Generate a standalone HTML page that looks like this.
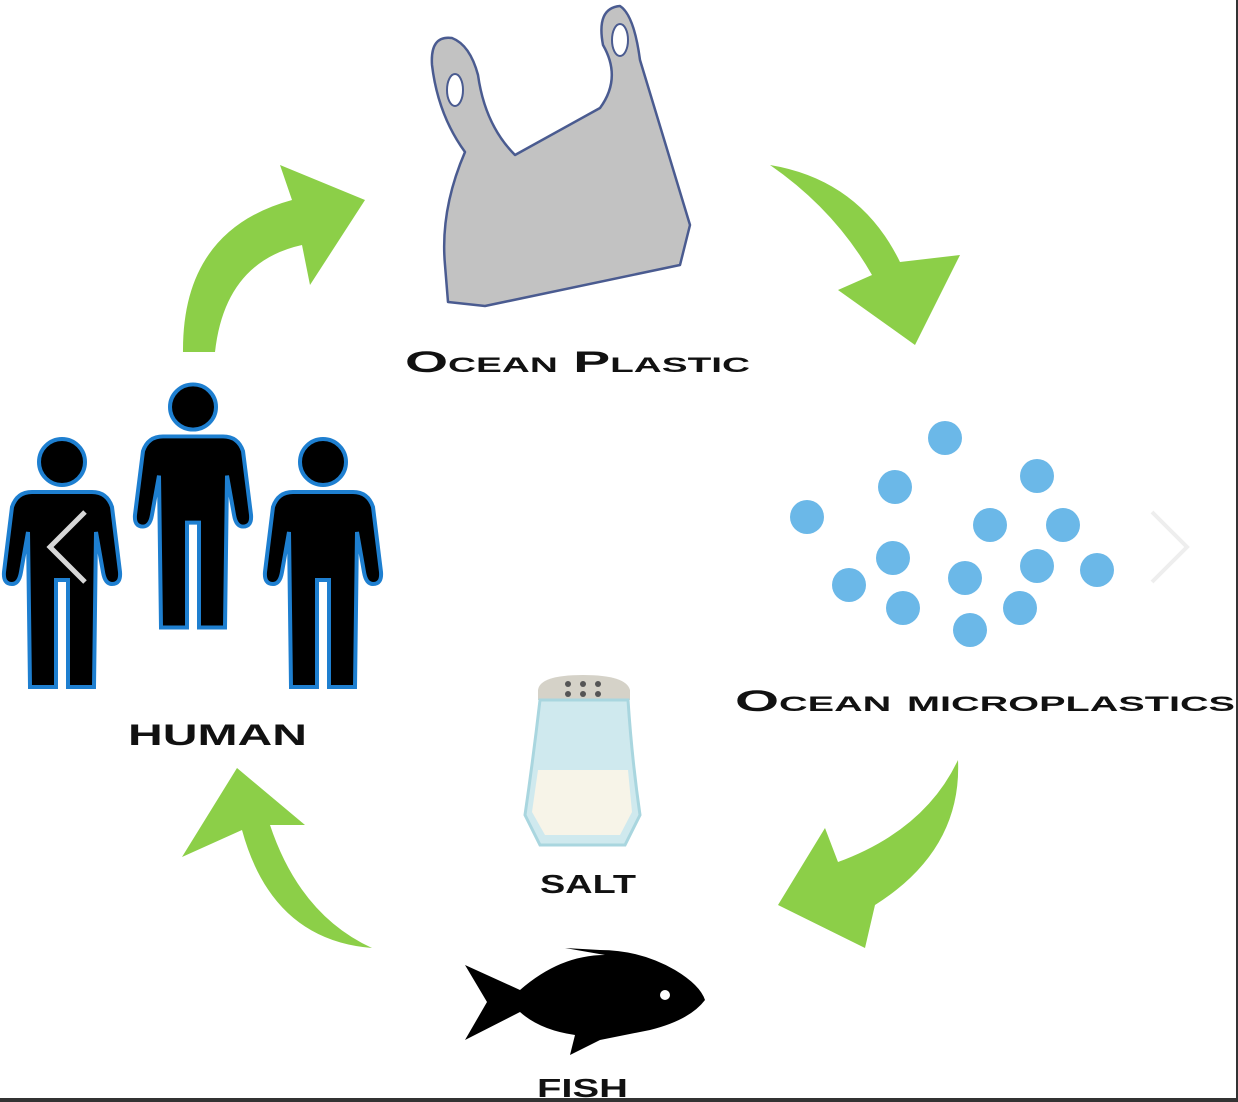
<!DOCTYPE html>
<html><head><meta charset="utf-8"><style>
html,body{margin:0;padding:0;background:#fff;}
svg{display:block}
text{font-family:"Liberation Sans",sans-serif;font-weight:bold;fill:#111;}
</style></head><body>
<svg width="1238" height="1102" viewBox="0 0 1238 1102" xmlns="http://www.w3.org/2000/svg">
<rect width="1238" height="1102" fill="#fff"/>
<g fill="#8ccf48">
<path d="M183,352 Q182,230 292,200 L280,165 L365,200 L310,285 L302,245 Q225,262 215,352 Z"/>
<path d="M770,165 Q860,180 900,262 L960,255 L915,345 L838,290 L872,275 Q835,210 770,165 Z"/>
<path d="M958,760 Q962,850 875,905 L865,948 L778,905 L825,828 L838,862 Q925,830 958,760 Z"/>
<path d="M372,948 Q272,940 242,830 L182,857 L237,768 L305,825 L270,825 Q300,915 372,948 Z"/>
</g>
<path d="M448,302 L445,265 Q440,210 465,152 Q438,115 432,65 Q430,35 452,38 Q470,45 478,75 Q485,125 515,155 L600,108 Q622,78 603,45 Q596,8 620,6 Q634,15 640,60 L690,225 L680,265 L485,306 Z" fill="#c2c2c2" stroke="#4a5b90" stroke-width="2.5" stroke-linejoin="round"/>
<ellipse cx="455" cy="90" rx="8" ry="16" fill="#fff" stroke="#4a5b90" stroke-width="2"/>
<ellipse cx="620" cy="40" rx="8" ry="16" fill="#fff" stroke="#4a5b90" stroke-width="2"/>
<text x="405" y="372" font-size="30" textLength="345" lengthAdjust="spacingAndGlyphs" style="font-variant:small-caps">Ocean Plastic</text>
<g fill="#6bb8e8">
<circle cx="945" cy="438" r="17"/><circle cx="1037" cy="476" r="17"/><circle cx="895" cy="487" r="17"/>
<circle cx="807" cy="517" r="17"/><circle cx="990" cy="525" r="17"/><circle cx="1063" cy="525" r="17"/>
<circle cx="893" cy="558" r="17"/><circle cx="1037" cy="566" r="17"/><circle cx="1097" cy="570" r="17"/>
<circle cx="849" cy="585" r="17"/><circle cx="965" cy="578" r="17"/><circle cx="903" cy="608" r="17"/>
<circle cx="1020" cy="608" r="17"/><circle cx="970" cy="630" r="17"/>
</g>
<text x="735" y="711" font-size="30" textLength="500" lengthAdjust="spacingAndGlyphs" style="font-variant:small-caps">Ocean microplastics</text>
<defs>
<g id="p">
<circle cx="0" cy="0" r="23"/>
<path d="M-30,30 L30,30 Q45,30 50,45 L58,110 Q59,122 50,122 Q43,122 41,110 L34,70 L32,225 L6,225 L6,118 L-6,118 L-6,225 L-32,225 L-34,70 L-41,110 Q-43,122 -50,122 Q-59,122 -58,110 L-50,45 Q-45,30 -30,30 Z"/>
</g>
</defs>
<g fill="#000" stroke="#1e7fd0" stroke-width="4">
<use href="#p" transform="translate(62,462)"/>
<use href="#p" transform="translate(193,407) scale(1,0.98)"/>
<use href="#p" transform="translate(323,462)"/>
</g>
<text x="128" y="745" font-size="30" textLength="179" lengthAdjust="spacingAndGlyphs">HUMAN</text>
<path d="M538,690 Q540,675 583,675 Q626,675 630,690 L630,700 L538,700 Z" fill="#d5d2c8"/>
<g fill="#555"><circle cx="568" cy="684" r="3"/><circle cx="583" cy="684" r="3"/><circle cx="598" cy="684" r="3"/><circle cx="568" cy="694" r="3"/><circle cx="583" cy="694" r="3"/><circle cx="598" cy="694" r="3"/></g>
<path d="M540,700 L628,700 Q632,760 640,815 L625,845 L540,845 L525,815 Q533,760 540,700 Z" fill="#cfe9ee" stroke="#a9d6df" stroke-width="3"/>
<path d="M538,770 L628,770 L632,812 L620,835 L545,835 L532,812 Z" fill="#f7f4e8"/>
<text x="540" y="893" font-size="26" textLength="96" lengthAdjust="spacingAndGlyphs">SALT</text>
<path d="M465,965 L520,990 Q560,955 605,955 L565,948 L600,950 Q640,950 675,970 Q700,985 705,1000 Q690,1020 650,1030 L600,1040 L570,1055 L575,1035 Q540,1030 520,1012 L465,1040 L487,1002 Z" fill="#000"/>
<circle cx="665" cy="995" r="5" fill="#fff"/>
<text x="537" y="1097" font-size="26" textLength="91" lengthAdjust="spacingAndGlyphs">FISH</text>
<path d="M85,512 L50,547 L85,582" fill="none" stroke="#eee" stroke-width="5" opacity="0.9"/>
<path d="M1152,512 L1187,547 L1152,582" fill="none" stroke="#eee" stroke-width="4"/>
<rect x="1236" y="0" width="2" height="1102" fill="#333"/>
<rect x="0" y="1098" width="1238" height="4" fill="#333"/>
</svg>
</body></html>
